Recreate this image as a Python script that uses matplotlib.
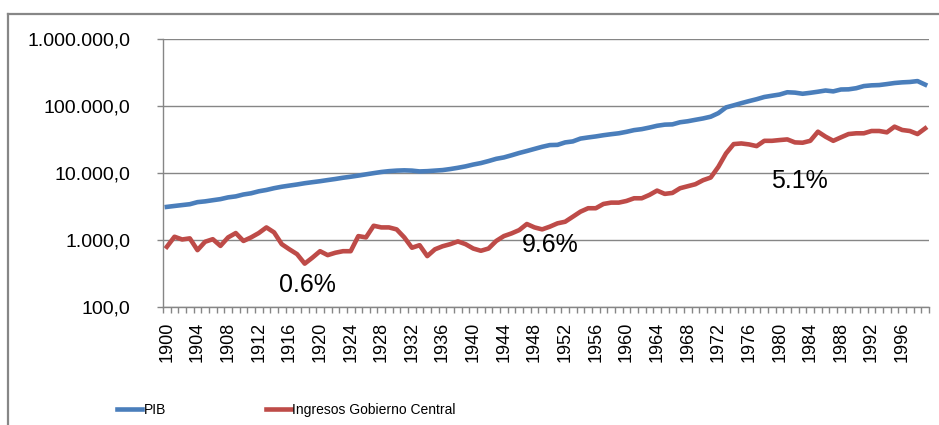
import numpy as np
import matplotlib
matplotlib.use("Agg")
import matplotlib.pyplot as plt
from matplotlib.ticker import FuncFormatter, FixedLocator
from matplotlib.lines import Line2D

plt.rcParams['font.family'] = ['Liberation Sans', 'DejaVu Sans']

years = list(range(1900, 2000))

pib = [
    3100, 3200, 3300, 3400, 3650, 3750, 3900, 4050, 4300, 4450,
    4750, 4950, 5300, 5550, 5900, 6200, 6450, 6700, 7000, 7250,
    7500, 7800, 8100, 8450, 8750, 9100, 9500, 9900, 10300, 10600,
    10800, 10900, 10800, 10500, 10600, 10800, 11000, 11400, 11900, 12500,
    13300, 14000, 15000, 16200, 17000, 18300, 19800, 21200, 22800, 24500,
    26000, 26200, 28500, 29500, 32500, 33800, 35000, 36500, 37800, 39000,
    41000, 43500, 45000, 47500, 50500, 52500, 53000, 57000, 59000, 62000,
    65000, 69000, 78000, 95000, 102000, 110000, 118000, 126000, 136000, 142000,
    148000, 160000, 158000, 152000, 157000, 163000, 170000, 165000, 176000, 177000,
    184000, 198000, 203000, 205000, 212000, 220000, 225000, 228000, 235000, 208000,
]

ingresos = [
    785, 1110, 1010, 1050, 700, 935, 1020, 810, 1085, 1260,
    960, 1085, 1260, 1530, 1290, 860, 720, 610, 440, 540,
    675, 590, 640, 675, 675, 1135, 1085, 1620, 1530, 1530,
    1430, 1085, 760, 830, 570, 720, 800, 860, 945, 860,
    740, 685, 740, 960, 1135, 1245, 1395, 1720, 1530, 1430,
    1570, 1760, 1860, 2210, 2630, 2960, 2960, 3430, 3590, 3590,
    3800, 4170, 4170, 4680, 5430, 4850, 5010, 5890, 6310, 6760,
    7760, 8510, 12300, 19500, 26900, 27500, 26600, 25100, 30100, 30100,
    30900, 31600, 28500, 28200, 30100, 41200, 34700, 30100, 33900, 38000,
    39000, 39000, 42200, 42200, 40300, 49000, 43700, 42200, 38000, 46200,
]

label_years = list(range(1900, 2000, 4))
notes = ["0.6%", "9.6%", "5.1%"]
# text anchor (year, value at baseline)
note_pos = [(1918.3, 165), (1950.0, 655), (1982.6, 5930)]

grid_c = '#868686'

fig = plt.figure(figsize=(9.39, 4.25), dpi=100)
ax = fig.add_axes([163 / 939, 1 - 306.7 / 425, (929 - 163) / 939, (306.7 - 39) / 425])

ax.plot(years, pib, color='#4A7EBB', lw=3.3, solid_joinstyle='round', label='PIB')
ax.plot(years, ingresos, color='#BE4B48', lw=3.3, solid_joinstyle='round',
        label='Ingresos Gobierno Central')

ax.set_yscale('log')
ax.set_ylim(100, 1000000)
ax.set_xlim(1899.5, 1999.5)

ax.yaxis.set_major_locator(FixedLocator([100, 1000, 10000, 100000, 1000000]))
ax.yaxis.set_minor_locator(FixedLocator([]))
ax.yaxis.set_major_formatter(FuncFormatter(lambda v, p: f"{v:,.1f}".replace(",", "X").replace(".", ",").replace("X", ".")))
ax.grid(axis='y', color=grid_c, lw=1.0)
ax.set_axisbelow(True)

ax.set_xticks(label_years)
ax.set_xticklabels([str(y) for y in label_years], rotation=90)
ax.xaxis.set_minor_locator(FixedLocator(np.arange(1899.5, 2000, 1)))
ax.tick_params(axis='x', which='major', length=0, pad=11, labelsize=13, colors='black')
ax.tick_params(axis='x', which='minor', length=4, color=grid_c, width=1)
ax.tick_params(axis='y', which='major', length=4.5, color=grid_c, width=1, pad=19,
               labelsize=14, labelcolor='black')

for s in ['top', 'right']:
    ax.spines[s].set_visible(False)
for s in ['left', 'bottom']:
    ax.spines[s].set_color(grid_c)
    ax.spines[s].set_linewidth(1.0)

for txt, (x, y) in zip(notes, note_pos):
    ax.text(x, y, txt, fontsize=18, ha='center', va='baseline', color='black')

fig.legend(loc='center left', bbox_to_anchor=(117 / 939, 1 - 410 / 425), ncol=2,
           frameon=False, borderpad=0, borderaxespad=0,
           handlelength=1.8, handletextpad=0.1, columnspacing=7.2,
           prop={'size': 10})

# outer chart frame
fig.add_artist(Line2D([8 / 939, 1.0], [1 - 14 / 425, 1 - 14 / 425], color='#878787', lw=1.6,
                      transform=fig.transFigure))
fig.add_artist(Line2D([8 / 939, 8 / 939], [0.0, 1 - 14 / 425], color='#878787', lw=1.6,
                      transform=fig.transFigure))

fig.savefig('out.png', dpi=100)
